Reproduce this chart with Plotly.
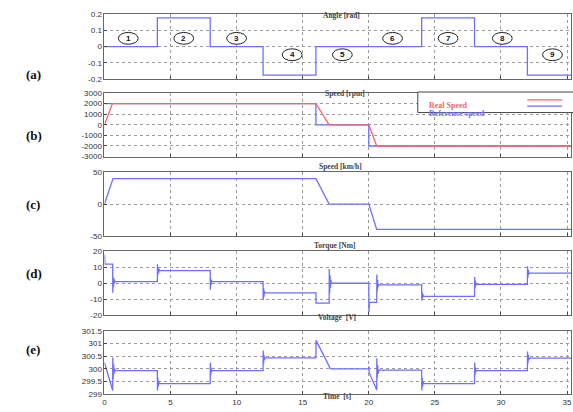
import plotly.graph_objects as go
from plotly.subplots import make_subplots

# ---------------- data ----------------
time_ticks = [0, 5, 10, 15, 20, 25, 30, 35]

angle_t = [0, 4, 8, 12, 16, 24, 28, 32, 35.3]
angle_v = [0, 0.175, 0, -0.175, 0, 0.175, 0, -0.175, -0.175]

zone_labels = ["1", "2", "3", "4", "5", "6", "7", "8", "9"]
zone_t = [1.8, 6.0, 10.0, 14.2, 18.0, 21.8, 26.0, 30.1, 33.9]
zone_v = [0.05, 0.05, 0.05, -0.05, -0.05, 0.05, 0.05, 0.05, -0.05]

ref_rpm_t = [0, 16, 20, 35.3]
ref_rpm_v = [2000, 0, -2000, -2000]
real_rpm_t = [0, 0.6, 16, 17, 20, 20.6, 35.3]
real_rpm_v = [0, 2000, 2000, 0, 0, -2000, -2000]

kmh_t = [0, 0.65, 16, 17, 20, 20.6, 35.3]
kmh_v = [0, 40, 40, 0, 0, -40, -40]

torque_t = [0, 0.04, 0.62, 0.63, 0.66, 0.69, 0.72, 0.75, 0.79, 0.85,
            4.0, 4.01, 4.04, 4.07, 4.10, 4.13, 4.17,
            8.0, 8.01, 8.04, 8.07, 8.10, 8.14,
            12.0, 12.01, 12.04, 12.07, 12.10, 12.14,
            16.0, 16.01, 17.0, 17.01, 17.04, 17.07, 17.10, 17.13, 17.17,
            20.0, 20.01, 20.05, 20.6, 20.61, 20.64, 20.67, 20.70, 20.74,
            24.0, 24.01, 24.04, 24.07, 24.10, 24.14,
            28.0, 28.01, 28.04, 28.07, 28.10, 28.14,
            32.0, 32.01, 32.04, 32.07, 32.10, 32.14, 35.3]
torque_v = [18, 12, 12, -6, 4, -2, 3, 0, 1.5, 1,
            1, 12, 5, 10, 6.5, 9, 8,
            8, -4, 3, -1, 2, 1,
            1, -10.5, -3, -8.5, -5, -6,
            -6, -12.5, -12.5, 9, -6, 5, -3, 2, 0,
            0, -18, -12, -12, 5.5, -5, 2, -2.5, -1,
            -1, -11, -5.5, -9.5, -7, -8.3,
            -8.3, 4, -3, 1.5, -1.5, -0.7,
            -0.7, 10.7, 3.5, 8.5, 5.5, 6.4, 6.4]

volt_t = [0, 0.62, 0.63, 0.66, 0.69, 0.72, 0.76, 0.82,
          4.0, 4.01, 4.04, 4.07, 4.10, 4.15,
          8.0, 8.01, 8.04, 8.07, 8.10, 8.15,
          12.0, 12.01, 12.04, 12.07, 12.10, 12.15,
          16.0, 16.01, 17.1,
          20.0, 20.01, 20.03, 20.6, 20.61, 20.64, 20.67, 20.70, 20.75,
          24.0, 24.01, 24.04, 24.07, 24.10, 24.15,
          28.0, 28.01, 28.04, 28.07, 28.10, 28.15,
          32.0, 32.01, 32.04, 32.07, 32.10, 32.15, 35.3]
volt_v = [300.25, 299.15, 300.45, 299.6, 300.2, 299.8, 300.0, 299.93,
          299.93, 299.15, 299.65, 299.3, 299.5, 299.42,
          299.42, 300.25, 299.75, 300.05, 299.88, 299.93,
          299.93, 300.72, 300.2, 300.55, 300.35, 300.43,
          300.43, 301.12, 300.0,
          300.0, 300.1, 299.85, 299.17, 300.42, 299.65, 300.15, 299.8, 299.95,
          299.95, 299.15, 299.65, 299.3, 299.5, 299.42,
          299.42, 300.25, 299.75, 300.05, 299.88, 299.93,
          299.93, 300.68, 300.2, 300.55, 300.35, 300.42, 300.42]

titles = ["Angle [rad]", "Speed [rpm]", "Speed [km/h]", "Torque [Nm]", "Voltage  [V]"]
panel_tags = ["(a)", "(b)", "(c)", "(d)", "(e)"]

ytick_vals = [
    [-0.2, -0.1, 0, 0.1, 0.2],
    [-3000, -2000, -1000, 0, 1000, 2000, 3000],
    [-50, 0, 50],
    [-20, -10, 0, 10, 20],
    [299, 299.5, 300, 300.5, 301, 301.5],
]
ytick_text = [
    ["-0.2", "-0.1", "0", "0.1", "0.2"],
    ["-3000", "-2000", "-1000", "0", "1000", "2000", "3000"],
    ["-50", "0", "50"],
    ["-20", "-10", "0", "10", "20"],
    ["299", "299.5", "300", "300.5", "301", "301.5"],
]
y_ranges = [[-0.2, 0.2], [-3000, 3000], [-50, 50], [-20, 20], [299, 301.5]]

# ---------------- layout geometry (pixels) ----------------
W, H = 573, 412
BLUE = "#6f6fff"
RED = "#ff6464"
SERIF = "Liberation Serif, Times New Roman, serif"
SANS = "Liberation Sans, Arial, sans-serif"
panel_px = [(10, 77), (91, 156), (172, 237), (253, 318), (334, 399)]
title_px = [(341, 5), (345, 85), (340, 166), (334, 247), (337, 327)]
tag_y_px = [62, 125, 205, 285, 363]

fig = make_subplots(rows=5, cols=1)

fig.add_trace(go.Scatter(x=angle_t, y=angle_v, mode="lines", line=dict(color=BLUE, width=1.3, shape="hv")), row=1, col=1)
fig.add_trace(go.Scatter(x=ref_rpm_t, y=ref_rpm_v, mode="lines", line=dict(color=BLUE, width=1.3, shape="hv")), row=2, col=1)
fig.add_trace(go.Scatter(x=real_rpm_t, y=real_rpm_v, mode="lines", line=dict(color=RED, width=1.3)), row=2, col=1)
fig.add_trace(go.Scatter(x=kmh_t, y=kmh_v, mode="lines", line=dict(color=BLUE, width=1.3)), row=3, col=1)
fig.add_trace(go.Scatter(x=torque_t, y=torque_v, mode="lines", line=dict(color=BLUE, width=1.3)), row=4, col=1)
fig.add_trace(go.Scatter(x=volt_t, y=volt_v, mode="lines", line=dict(color=BLUE, width=1.3)), row=5, col=1)

# circled zone numbers
for lab, t, v in zip(zone_labels, zone_t, zone_v):
    fig.add_shape(type="circle", xref="x", yref="y", x0=t - 0.75, x1=t + 0.75,
                  y0=v - 0.036, y1=v + 0.036, line=dict(color="#222", width=1), fillcolor="white")
    fig.add_annotation(x=t, y=v, xref="x", yref="y", text="<b>" + lab + "</b>", showarrow=False,
                       font=dict(family=SANS, size=8, color="#111"))

axis_common = dict(showline=True, linecolor="#666", linewidth=1, mirror=True,
                   ticks="inside", ticklen=3, tickcolor="#444",
                   showgrid=True, gridcolor="#9a9a9a", griddash="dot", gridwidth=1,
                   zeroline=False,
                   tickfont=dict(family=SANS, size=8, color="#333"))

for i in range(5):
    r = i + 1
    top, bot = panel_px[i]
    fig.update_xaxes(row=r, col=1, range=[0, 35.3], tickvals=time_ticks,
                     ticktext=[str(v) for v in time_ticks],
                     showticklabels=(i == 4), ticklabeloverflow="allow",
                     domain=[103 / W, 572 / W], **axis_common)
    fig.update_yaxes(row=r, col=1, range=y_ranges[i], tickvals=ytick_vals[i],
                     ticktext=ytick_text[i], domain=[1 - bot / H, 1 - top / H], **axis_common)
    tx, ty = title_px[i]
    fig.add_annotation(x=tx / W, y=1 - ty / H, xref="paper", yref="paper", text="<b>" + titles[i] + "</b>",
                       showarrow=False, font=dict(family=SERIF, size=7.5, color="#444"))
    fig.add_annotation(x=22 / W, y=1 - tag_y_px[i] / H, xref="paper", yref="paper", text="<b>" + panel_tags[i] + "</b>",
                       showarrow=False, font=dict(family=SERIF, size=13, color="#111"))

fig.add_annotation(x=337 / W, y=1 - 408 / H, xref="paper", yref="paper", text="<b>Time  [s]</b>",
                   showarrow=False, font=dict(family=SERIF, size=7.5, color="#444"))

# legend box drawn (MATLAB style: text left, line sample right)
fig.add_shape(type="rect", xref="paper", yref="paper", x0=418 / W, x1=580 / W,
              y0=1 - 111 / H, y1=1 - 90 / H, line=dict(color="#444", width=1), fillcolor="white", layer="above")
fig.add_annotation(x=427 / W, y=1 - 97 / H, xref="paper", yref="paper", text="<b>Real Speed</b>",
                   xanchor="left", showarrow=False,
                   font=dict(family=SERIF, size=8, color=RED))
fig.add_annotation(x=427 / W, y=1 - 105 / H, xref="paper", yref="paper", text="<b>Reference speed</b>",
                   xanchor="left", showarrow=False,
                   font=dict(family=SERIF, size=8, color=BLUE))
fig.add_shape(type="line", xref="paper", yref="paper", x0=528 / W, x1=563 / W,
              y0=1 - 98 / H, y1=1 - 98 / H, line=dict(color=RED, width=1.3), layer="above")
fig.add_shape(type="line", xref="paper", yref="paper", x0=528 / W, x1=563 / W,
              y0=1 - 104.5 / H, y1=1 - 104.5 / H, line=dict(color=BLUE, width=1.3), layer="above")

fig.update_layout(width=W, height=H, margin=dict(l=0, r=0, t=0, b=0),
                  paper_bgcolor="white", plot_bgcolor="white", showlegend=False)

fig.write_html("out.html", config={"displayModeBar": False},
               post_script="document.body.style.margin='0';document.body.style.overflow='hidden';")
